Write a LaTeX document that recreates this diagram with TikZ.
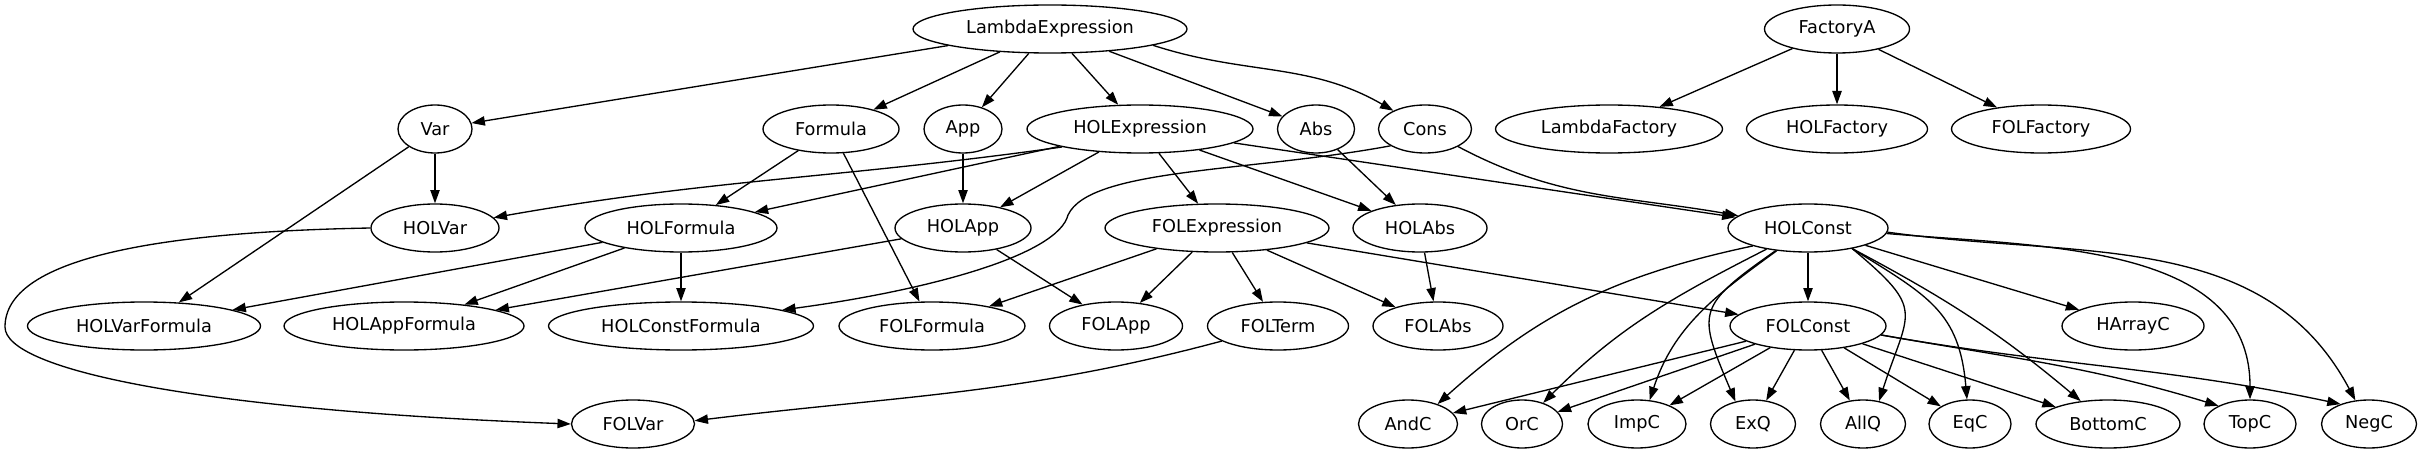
\documentclass[tikz,border=0pt]{standalone}
\usepackage{fontspec}
\setmainfont{DejaVu Sans}
\usepackage{tikz}
\usetikzlibrary{positioning,shapes.geometric,arrows.meta}

\begin{document}
\begin{tikzpicture}[x=0.75pt, y=-0.75pt, >={Triangle[length=10pt,width=7pt]},
  every class/.style={ellipse, draw, line width=1pt, inner sep=0pt, minimum height=36pt,
    font=\fontsize{13.3}{16}\selectfont},
  link/.style={->, line width=1pt}]

\path [fill=white] (0,0) rectangle (2426,456);
\useasboundingbox (0,0) rectangle (2426,456);

\foreach \n/\x/\w in {LambdaExpression/1050/274, FactoryA/1837/145}
  \node [every class/.try, minimum width=\w*0.75pt] (\n) at (\x,29) {\n};

\foreach \n/\x/\w in {Var/435/74, Formula/831/136, App/963/78, HOLExpression/1140/226,
    Abs/1316/77, Cons/1425/93, LambdaFactory/1609/227, HOLFactory/1837/181, FOLFactory/2041/179}
  \node [every class/.try, minimum width=\w*0.75pt] (\n) at (\x,129) {\n};

\foreach \n/\x/\w in {HOLVar/435/128, HOLFormula/681/192, HOLApp/963/136,
    FOLExpression/1217/224, HOLAbs/1420/134, HOLConst/1808/160}
  \node [every class/.try, minimum width=\w*0.75pt] (\n) at (\x,228) {\n};

\foreach \n/\x/\w in {HOLVarFormula/144/233, HOLAppFormula/404/240, HOLConstFormula/681/265,
    FOLFormula/932/186, FOLApp/1116/133, FOLTerm/1278/141, FOLAbs/1438/130,
    FOLConst/1808/156, HArrayC/2133/142}
  \node [every class/.try, minimum width=\w*0.75pt] (\n) at (\x,326) {\n};

\foreach \n/\x/\w in {FOLVar/633/123, AndC/1408/99, OrC/1522/81, ImpC/1637/98, ExQ/1753/85,
    AllQ/1863/85, EqC/1970/82, BottomC/2108/144, TopC/2250/92, NegC/2369/95}
  \node [every class/.try, minimum width=\w*0.75pt] (\n) at (\x,424) {\n};

\coordinate (consbend) at (1068,215);
\coordinate (holvarbend) at (5,327);

\foreach \a/\b in {LambdaExpression/Var, LambdaExpression/Formula, LambdaExpression/App,
    LambdaExpression/HOLExpression, LambdaExpression/Abs,
    FactoryA/LambdaFactory, FactoryA/HOLFactory, FactoryA/FOLFactory,
    Var/HOLVar, Var/HOLVarFormula, Formula/HOLFormula, Formula/FOLFormula, App/HOLApp,
    HOLExpression/HOLFormula, HOLExpression/HOLApp, HOLExpression/FOLExpression,
    HOLExpression/HOLAbs, HOLExpression/HOLConst, Abs/HOLAbs,
    HOLFormula/HOLVarFormula, HOLFormula/HOLAppFormula, HOLFormula/HOLConstFormula,
    HOLApp/HOLAppFormula, HOLApp/FOLApp,
    FOLExpression/FOLFormula, FOLExpression/FOLApp, FOLExpression/FOLTerm,
    FOLExpression/FOLAbs, FOLExpression/FOLConst, HOLAbs/FOLAbs,
    HOLConst/FOLConst, HOLConst/HArrayC,
    FOLConst/AndC, FOLConst/OrC, FOLConst/ImpC, FOLConst/ExQ, FOLConst/AllQ,
    FOLConst/EqC, FOLConst/BottomC}
  \draw [link] (\a) -- (\b);

\draw [link] (LambdaExpression.-9) to[out=-18, in=150] (Cons);
\draw [link] (HOLExpression.193) to[out=188, in=10] (HOLVar);
\draw [link] (Cons) to[out=-28, in=170] (HOLConst);
\draw [link] (Cons.206) .. controls (1250,172) and (1090,168) .. (consbend)
  .. controls (1058,255) and (930,290) .. (HOLConstFormula.9);
\draw [link] (HOLVar.west) .. controls (150,232) and (5,260) .. (holvarbend)
  .. controls (5,370) and (200,410) .. (FOLVar.west);
\draw [link] (FOLTerm) to[out=195, in=7] (FOLVar.3);

\draw [link] (HOLConst.198) to[out=192, in=42] (AndC.34);
\draw [link] (HOLConst) to[out=207, in=45] (OrC);
\draw [link] (HOLConst) to[out=216, in=72] (ImpC.62);
\draw [link] (HOLConst.215) to[out=215, in=113, looseness=1.6] (ExQ.128);
\draw [link] (HOLConst.-25) to[out=-40, in=72, looseness=1.6] (AllQ.55);
\draw [link] (HOLConst.-25) to[out=-32, in=95, looseness=1.2] (EqC.97);
\draw [link] (HOLConst.-25) to[out=-28, in=140] (BottomC);
\draw [link] (HOLConst.-4) to[out=-5, in=90] (TopC);
\draw [link] (HOLConst.-3) to[out=-8, in=118] (NegC.120);
\draw [link] (FOLConst.-7) to[out=-10, in=163] (TopC.150);
\draw [link] (FOLConst.-7) to[out=-10, in=168] (NegC.145);

\end{tikzpicture}
\end{document}
